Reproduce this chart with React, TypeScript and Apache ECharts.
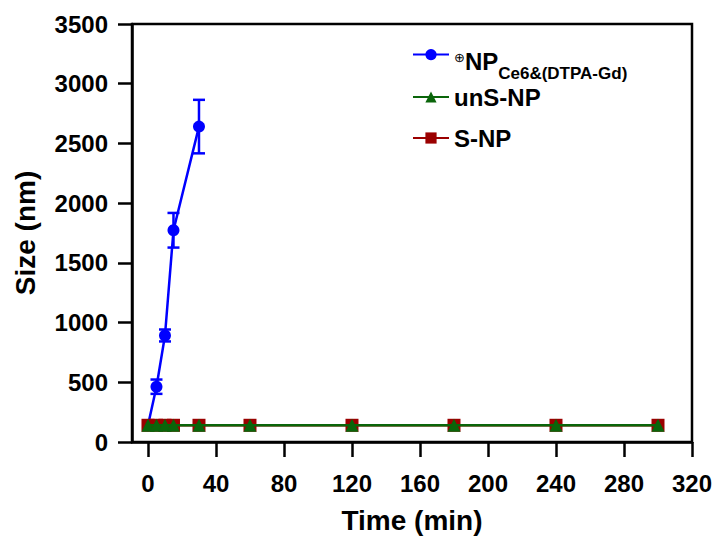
import React, { useEffect, useRef } from "react";
import * as echarts from "echarts";

const blueName = "⊕NPCe6&(DTPA-Gd)";
const greenName = "unS-NP";
const redName = "S-NP";

const blueTime = [0, 5, 10, 15, 30];
const blueSize = [140, 463, 892, 1773, 2641];
const blueErr = [0, 60, 50, 145, 224];

const npTime = [0, 5, 10, 15, 30, 60, 120, 180, 240, 300];
const unsSize = [140, 140, 140, 140, 140, 140, 140, 140, 140, 140];
const sSize = [140, 140, 140, 140, 140, 140, 140, 140, 140, 140];

const xTicks = [0, 40, 80, 120, 160, 200, 240, 280, 320];

const BLUE = "#0000FF";
const GREEN = "#0A650A";
const RED = "#9B0000";
const FONT = "'Liberation Sans', Arial, sans-serif";

export default function App() {
  const ref = useRef<HTMLDivElement>(null);
  useEffect(() => {
    if (!ref.current) return;
    const chart = echarts.init(ref.current, null, { renderer: "svg" });
    const axisLineStyle = { color: "#000", width: 2.5 };
    const legendBase = {
      orient: "vertical",
      left: 412,
      padding: 0,
      itemWidth: 36,
      itemHeight: 14,
      selectedMode: false,
    };
    chart.setOption({
      animation: false,
      backgroundColor: "#fff",
      textStyle: { fontFamily: FONT },
      grid: {
        left: 132,
        right: 27,
        top: 24,
        bottom: 94,
        show: true,
        borderColor: "#000",
        borderWidth: 2.5,
        containLabel: false,
      },
      legend: [
        {
          ...legendBase,
          top: 49,
          data: [blueName],
          formatter: () => "{sup|⊕}{b|NP}{sub|Ce6&(DTPA-Gd)}",
          textStyle: {
            rich: {
              sup: { fontSize: 13, fontWeight: "normal", color: "#000", verticalAlign: "bottom", lineHeight: 55, padding: [0, 0, 18, 0], fontFamily: "'DejaVu Sans', sans-serif" },
              b: { fontSize: 24, fontWeight: "bold", color: "#000", verticalAlign: "bottom", padding: [0, 0, 9, 0], fontFamily: FONT },
              sub: { fontSize: 17, fontWeight: "bold", color: "#000", verticalAlign: "bottom", fontFamily: FONT },
            },
          },
        },
        {
          ...legendBase,
          top: 85,
          data: [greenName],
          textStyle: { fontSize: 24, fontWeight: "bold", color: "#000", lineHeight: 24, fontFamily: FONT },
        },
        {
          ...legendBase,
          top: 126,
          data: [redName],
          textStyle: { fontSize: 24, fontWeight: "bold", color: "#000", lineHeight: 24, fontFamily: FONT },
        },
      ],
      xAxis: {
        type: "value",
        min: -9.4,
        max: 320,
        name: "Time (min)",
        nameLocation: "middle",
        nameGap: 64,
        nameTextStyle: { fontSize: 28, fontWeight: "bold", color: "#000", fontFamily: FONT },
        axisLine: { show: true, onZero: false, lineStyle: axisLineStyle },
        axisTick: { show: true, length: 15, inside: false, lineStyle: axisLineStyle, customValues: xTicks },
        axisLabel: { fontSize: 24, fontWeight: "bold", color: "#000", margin: 29, customValues: xTicks, fontFamily: FONT },
        splitLine: { show: false },
      },
      yAxis: {
        type: "value",
        min: 0,
        max: 3500,
        interval: 500,
        name: "Size (nm)",
        nameLocation: "middle",
        nameGap: 93,
        nameTextStyle: { fontSize: 28, fontWeight: "bold", color: "#000", fontFamily: FONT },
        axisLine: { show: true, onZero: false, lineStyle: axisLineStyle },
        axisTick: { show: true, length: 14, inside: false, lineStyle: axisLineStyle },
        axisLabel: {
          fontSize: 24,
          fontWeight: "bold",
          color: "#000",
          margin: 24,
          fontFamily: FONT,
          formatter: (v: number) => String(v),
        },
        splitLine: { show: false },
      },
      series: [
        {
          name: blueName,
          type: "line",
          data: blueTime.map((t, i) => [t, blueSize[i]]),
          symbol: "circle",
          symbolSize: 12,
          itemStyle: { color: BLUE },
          lineStyle: { color: BLUE, width: 2.5 },
          z: 2,
        },
        {
          name: "err",
          type: "custom",
          data: blueTime.map((t, i) => [t, blueSize[i], blueErr[i]]),
          encode: { x: 0, y: 1 },
          z: 2,
          renderItem: (params: any, api: any) => {
            const x = api.value(0);
            const y = api.value(1);
            const e = api.value(2);
            if (!e) return { type: "group", children: [] };
            const top = api.coord([x, y + e]);
            const bot = api.coord([x, y - e]);
            const hw = 6;
            const style = { stroke: BLUE, lineWidth: 2.5 };
            return {
              type: "group",
              children: [
                { type: "line", shape: { x1: top[0], y1: top[1], x2: bot[0], y2: bot[1] }, style },
                { type: "line", shape: { x1: top[0] - hw, y1: top[1], x2: top[0] + hw, y2: top[1] }, style },
                { type: "line", shape: { x1: bot[0] - hw, y1: bot[1], x2: bot[0] + hw, y2: bot[1] }, style },
              ],
            };
          },
        },
        {
          name: redName,
          type: "line",
          data: npTime.map((t, i) => [t, sSize[i]]),
          symbol: "rect",
          symbolSize: 13,
          itemStyle: { color: RED },
          lineStyle: { color: RED, width: 2.5 },
          z: 3,
        },
        {
          name: greenName,
          type: "line",
          data: npTime.map((t, i) => [t, unsSize[i]]),
          symbol: "triangle",
          symbolSize: 13,
          itemStyle: { color: GREEN },
          lineStyle: { color: GREEN, width: 2.5 },
          z: 4,
        },
      ],
    });
    return () => chart.dispose();
  }, []);
  return (
    <div
      ref={ref}
      style={{ position: "fixed", left: 0, top: 0, width: 719, height: 539, background: "#fff" }}
    />
  );
}
